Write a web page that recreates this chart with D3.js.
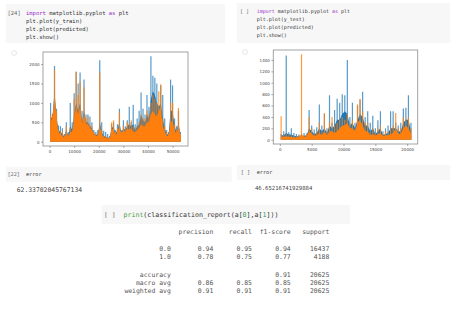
<!DOCTYPE html>
<html>
<head>
<meta charset="utf-8">
<script src="https://cdn.jsdelivr.net/npm/d3@7"></script>
<style>
  body { margin: 0; background: #fff; }
  text.mono { font-family: "DejaVu Sans Mono", monospace; white-space: pre; }
  text.tick { font-family: "DejaVu Sans", sans-serif; font-size: 4px; fill: #444; }
</style>
</head>
<body>
<svg width="450" height="309"></svg>
<script>
// y_train / predicted, read as per-bin (800 rows) peak and dense-body levels
const trainBin = 800;
const trainBluePeak = [1000, 720, 1950, 850, 420, 400, 350, 200, 500, 250, 1000, 500, 1250, 1800, 1500, 1780, 800, 1600, 700, 700,
  650, 500, 300, 250, 300, 2100, 500, 280, 250, 200, 150, 450, 500, 300, 450, 850, 300, 550, 400, 550,
  900, 500, 950, 450, 600, 800, 1270, 850, 700, 1200, 900, 2200, 1700, 1650, 1500, 900, 1450, 1200, 600, 300,
  250, 1600, 1450, 600, 400, 800, 250];
const trainBlueBody = [600, 650, 1300, 650, 300, 250, 200, 130, 300, 150, 400, 300, 700, 1000, 800, 1000, 500, 800, 500, 500,
  400, 350, 220, 180, 180, 500, 250, 150, 130, 100, 100, 350, 400, 200, 300, 500, 220, 350, 300, 400,
  450, 400, 450, 300, 400, 450, 700, 550, 500, 700, 600, 1100, 1300, 1200, 1000, 900, 1000, 600, 350, 200,
  180, 800, 800, 400, 250, 500, 180];
const trainOrangePeak = [700, 680, 1850, 800, 300, 280, 250, 150, 400, 180, 350, 300, 1100, 1800, 1200, 1550, 600, 1400, 600, 650,
  450, 400, 250, 200, 200, 1780, 300, 150, 150, 120, 100, 500, 550, 250, 350, 750, 250, 400, 350, 500,
  450, 550, 400, 350, 400, 500, 700, 600, 600, 800, 700, 1000, 1200, 1100, 1000, 1300, 1480, 600, 400, 250,
  200, 1000, 1000, 450, 300, 870, 200];
const trainOrangeBody = [500, 650, 1200, 600, 250, 200, 150, 100, 250, 120, 250, 250, 600, 900, 700, 900, 450, 700, 450, 450,
  350, 300, 200, 150, 150, 400, 200, 100, 100, 80, 80, 300, 350, 150, 250, 400, 200, 300, 250, 350,
  300, 350, 250, 250, 300, 350, 450, 400, 400, 500, 500, 700, 800, 700, 650, 800, 900, 400, 250, 150,
  150, 500, 550, 300, 200, 450, 150];
const trainXTicks = [0, 10000, 20000, 30000, 40000, 50000];
const trainYTicks = [0, 500, 1000, 1500, 2000];

// y_test / predicted, per-bin (400 rows)
const testBin = 400;
const testRows = 20625;
const testBluePeak = [100, 150, 1480, 130, 200, 120, 100, 90, 100, 120, 110, 520, 250, 180, 220, 620, 250, 450, 200, 780,
  300, 520, 720, 650, 800, 780, 1400, 400, 650, 300, 600, 700, 840, 400, 500, 300, 420, 200, 340, 500,
  150, 200, 250, 500, 500, 300, 250, 300, 550, 560, 780, 300];
const testBlueBody = [80, 80, 120, 90, 90, 70, 60, 60, 60, 70, 80, 200, 150, 100, 120, 200, 150, 200, 120, 250,
  200, 250, 350, 350, 450, 500, 450, 250, 300, 200, 350, 450, 400, 250, 250, 150, 200, 100, 150, 200,
  80, 100, 120, 200, 200, 200, 150, 150, 300, 350, 350, 150];
const testOrangePeak = [410, 80, 100, 80, 80, 70, 60, 80, 1500, 80, 100, 400, 200, 120, 150, 300, 150, 470, 150, 300,
  400, 250, 300, 350, 400, 350, 450, 300, 350, 200, 620, 720, 500, 300, 300, 150, 200, 120, 200, 250,
  100, 150, 150, 200, 250, 470, 200, 200, 400, 350, 400, 200];
const testOrangeBody = [60, 50, 60, 50, 50, 40, 40, 50, 100, 50, 60, 150, 100, 70, 80, 120, 80, 150, 80, 150,
  150, 120, 150, 200, 250, 250, 300, 200, 200, 150, 300, 350, 250, 150, 150, 80, 100, 70, 100, 120,
  60, 80, 80, 100, 120, 200, 100, 100, 200, 250, 200, 100];
const testXTicks = [0, 5000, 10000, 15000, 20000];
const testYTicks = [0, 200, 400, 600, 800, 1000, 1200, 1400];

// text of the notebook cells
const trainCode = ["plt.plot(y_train)", "plt.plot(predicted)", "plt.show()"];
const testCode = ["plt.plot(y_test)", "plt.plot(predicted)", "plt.show()"];
const trainError = "62.33702045767134";
const testError = "46.65216741929884";
const reportHeader = ["precision", "recall", "f1-score", "support"];
const reportLabels = ["0.0", "1.0", "", "accuracy", "macro avg", "weighted avg"];
const reportPrecision = ["0.94", "0.78", "", "", "0.86", "0.91"];
const reportRecall = ["0.95", "0.75", "", "", "0.85", "0.91"];
const reportF1 = ["0.94", "0.77", "", "0.91", "0.85", "0.91"];
const reportSupport = ["16437", "4188", "", "20625", "20625", "20625"];

const svg = d3.select("svg");
const blue = "#1f77b4";
const orange = "#ff7f0e";

const drawPanel = p => {
  const n = p.rows;
  const yMax = d3.max(p.bluePeak.concat(p.orangePeak));
  const x = d3.scaleLinear().domain([-0.05 * n, 1.05 * n]).range([p.left, p.right]);
  const y = d3.scaleLinear().domain([-0.05 * yMax, 1.05 * yMax]).range([p.bottom, p.top]);
  const cx = i => x(Math.min((i + 0.5) * p.bin, n));

  const g = svg.append("g");

  const series = (peaks, body, color, peakOpacity) => {
    g.append("path")
      .datum(body)
      .attr("fill", color)
      .attr("d", d3.area().x((d, i) => cx(i)).y0(y(0)).y1(d => y(d)));
    g.append("g")
      .selectAll("line")
      .data(peaks)
      .join("line")
      .attr("x1", (d, i) => cx(i))
      .attr("x2", (d, i) => cx(i))
      .attr("y1", y(0))
      .attr("y2", d => y(d))
      .attr("stroke", color)
      .attr("stroke-width", 1.2)
      .attr("stroke-opacity", peakOpacity);
  };
  series(p.bluePeak, p.blueBody, blue, 0.75);
  series(p.orangePeak, p.orangeBody, orange, 0.8);

  g.append("rect")
    .attr("x", p.left).attr("y", p.top)
    .attr("width", p.right - p.left).attr("height", p.bottom - p.top)
    .attr("fill", "none").attr("stroke", "#999").attr("stroke-width", 0.9);

  const xa = g.append("g")
    .attr("transform", `translate(0,${p.bottom})`)
    .call(d3.axisBottom(x).tickValues(p.xTicks).tickFormat(d3.format("d")).tickSize(2).tickPadding(1.5));
  const ya = g.append("g")
    .attr("transform", `translate(${p.left},0)`)
    .call(d3.axisLeft(y).tickValues(p.yTicks).tickFormat(d3.format("d")).tickSize(2).tickPadding(1.5));
  [xa, ya].forEach(a => {
    a.select(".domain").remove();
    a.selectAll("line").attr("stroke", "#777").attr("stroke-width", 0.6);
    a.selectAll("text").attr("class", "tick").attr("fill", null);
  });
  xa.selectAll("text").attr("dy", "0.75em");
};

drawPanel({
  rows: trainBluePeak.length * trainBin, bin: trainBin,
  bluePeak: trainBluePeak, blueBody: trainBlueBody,
  orangePeak: trainOrangePeak, orangeBody: trainOrangeBody,
  xTicks: trainXTicks, yTicks: trainYTicks,
  left: 43, right: 188, top: 52, bottom: 146
});
drawPanel({
  rows: testRows, bin: testBin,
  bluePeak: testBluePeak, blueBody: testBlueBody,
  orangePeak: testOrangePeak, orangeBody: testOrangeBody,
  xTicks: testXTicks, yTicks: testYTicks,
  left: 273.3, right: 417.7, top: 50, bottom: 144
});

// notebook cells
const cell = (x, y, w, h) =>
  svg.insert("rect", ":first-child").attr("x", x).attr("y", y).attr("width", w).attr("height", h).attr("fill", "#f7f7f7");

const importLine = (x, y, size) => {
  const t = svg.append("text").attr("class", "mono").attr("x", x).attr("y", y)
    .attr("font-size", size).attr("fill", "#333");
  t.append("tspan").attr("fill", "#a030c8").text("import");
  t.append("tspan").text(" matplotlib.pyplot ");
  t.append("tspan").attr("fill", "#a030c8").text("as");
  t.append("tspan").text(" plt");
};
const plain = (str, x, y, size, color) =>
  svg.append("text").attr("class", "mono").attr("x", x).attr("y", y)
    .attr("font-size", size).attr("fill", color || "#333").text(str);

cell(6, 4, 219, 39);
plain("[24]", 7.5, 14.5, 5.5, "#666");
importLine(26, 14.5, 5.5);
trainCode.forEach((c, i) => plain(c, 26, 22.5 + i * 8, 5.5));
svg.append("circle").attr("cx", 14).attr("cy", 53).attr("r", 2.5).attr("fill", "none").attr("stroke", "#e8e8e8");

cell(236.7, 3, 213.3, 40);
plain("[ ]", 240, 12.8, 5, "#666");
importLine(256.7, 12.8, 5);
testCode.forEach((c, i) => plain(c, 256.7, 20.8 + i * 8, 5));
svg.append("circle").attr("cx", 245).attr("cy", 52).attr("r", 2.5).attr("fill", "none").attr("stroke", "#e8e8e8");

cell(6, 166.7, 225.7, 15);
plain("[22]", 7.5, 175.8, 5.2, "#666");
plain("error", 26, 175.8, 5.2);
plain(trainError, 16.7, 191.5, 6.4, "#444");

cell(236.7, 165, 213.3, 15);
plain("[ ]", 240.7, 174.2, 5.2, "#666");
plain("error", 256.7, 174.2, 5.2);
plain(testError, 255, 190.3, 5.6, "#444");

cell(101.7, 205, 248.3, 19);
plain("[ ]", 104, 216.8, 6.4, "#666");
const pr = svg.append("text").attr("class", "mono").attr("x", 123.5).attr("y", 216.8)
  .attr("font-size", 6.6).attr("fill", "#333");
pr.append("tspan").attr("fill", "#4d9a3c").text("print");
pr.append("tspan").text("(classification_report(a[");
pr.append("tspan").attr("fill", "#2a9a5a").text("0");
pr.append("tspan").text("],a[");
pr.append("tspan").attr("fill", "#2a9a5a").text("1");
pr.append("tspan").text("]))");

// classification report, formatted like sklearn's text output
const pad = (s, w) => String(s).padStart(w);
const reportLines = [pad("", 12) + " " + reportHeader.map(h => " " + pad(h, 9)).join("")];
reportLabels.forEach((lab, i) => {
  if (lab === "") { reportLines.push(""); return; }
  reportLines.push(pad(lab, 12) + " " +
    [reportPrecision[i], reportRecall[i], reportF1[i], reportSupport[i]].map(v => " " + pad(v, 9)).join(""));
});
const lineY = [234.3, 0, 251.3, 259.3, 0, 277, 284.8, 292.7];
const reportRows = [reportLines[0], "", ...reportLines.slice(1)];
reportRows.forEach((l, i) => {
  if (l) plain(l, 124.4, lineY[i], 6.43, "#555");
});
</script>
</body>
</html>
